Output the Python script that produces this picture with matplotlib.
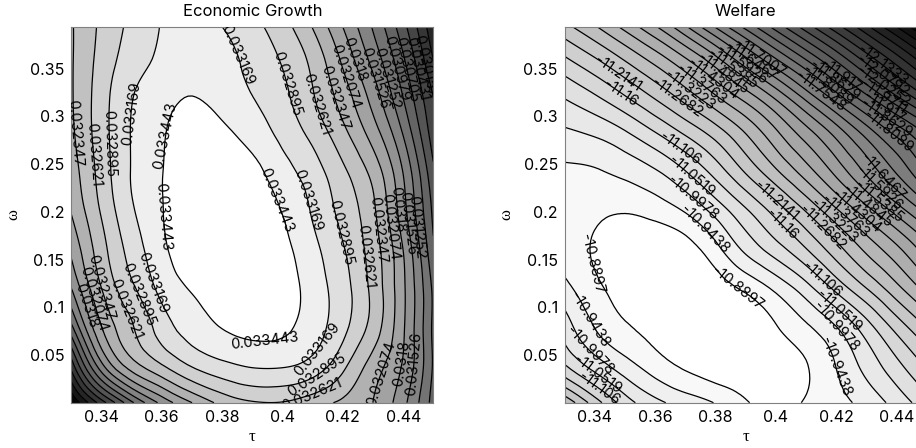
import numpy as np
import matplotlib
matplotlib.use("Agg")
import matplotlib.pyplot as plt
import matplotlib.tri as mtri
from matplotlib.colors import Normalize

# grid the surfaces were read on
tau = [0.33, 0.34, 0.35, 0.36, 0.37, 0.38, 0.39, 0.40, 0.41, 0.42, 0.43, 0.44, 0.45]
omega = [0.0, 0.04, 0.08, 0.12, 0.16, 0.20, 0.24, 0.28, 0.32, 0.36, 0.394]

# values estimated from the contour lines in the picture, one row per omega
growth = [
    [0.029059, 0.030018, 0.030922, 0.031607, 0.032073, 0.032429, 0.032594, 0.032607, 0.032457, 0.032292, 0.032073, 0.031607, 0.030867],
    [0.030018, 0.031470, 0.032237, 0.032621, 0.032936, 0.033114, 0.033210, 0.033210, 0.033073, 0.032703, 0.032237, 0.031772, 0.030950],
    [0.030922, 0.032073, 0.032594, 0.033032, 0.033292, 0.033457, 0.033525, 0.033498, 0.033306, 0.032977, 0.032511, 0.031840, 0.030922],
    [0.031525, 0.032347, 0.032840, 0.033251, 0.033470, 0.033635, 0.033662, 0.033580, 0.033320, 0.033005, 0.032539, 0.031854, 0.030922],
    [0.031854, 0.032511, 0.033005, 0.033375, 0.033635, 0.033717, 0.033676, 0.033525, 0.033251, 0.032922, 0.032484, 0.031799, 0.030758],
    [0.032087, 0.032648, 0.033128, 0.033429, 0.033662, 0.033676, 0.033594, 0.033435, 0.033142, 0.032813, 0.032402, 0.031635, 0.030648],
    [0.032210, 0.032731, 0.033183, 0.033435, 0.033621, 0.033607, 0.033525, 0.033292, 0.033032, 0.032689, 0.032265, 0.031525, 0.030498],
    [0.032292, 0.032772, 0.033183, 0.033416, 0.033566, 0.033512, 0.033347, 0.033101, 0.032827, 0.032443, 0.031963, 0.031251, 0.030292],
    [0.032320, 0.032772, 0.033155, 0.033347, 0.033448, 0.033333, 0.033174, 0.032963, 0.032648, 0.032224, 0.031689, 0.030977, 0.030155],
    [0.032320, 0.032717, 0.033032, 0.033224, 0.033333, 0.033265, 0.033087, 0.032868, 0.032539, 0.032018, 0.031429, 0.030744, 0.029881],
    [0.032320, 0.032676, 0.032963, 0.033183, 0.033279, 0.033169, 0.032977, 0.032731, 0.032333, 0.031799, 0.031224, 0.030525, 0.029689],
]
welfare = [
    [-11.312, -11.187, -11.079, -11.014, -10.974, -10.941, -10.895, -10.873, -10.895, -10.925, -10.963, -11.019, -11.084],
    [-11.106, -11.025, -10.963, -10.914, -10.879, -10.857, -10.852, -10.863, -10.887, -10.946, -11.017, -11.092, -11.171],
    [-11.025, -10.941, -10.895, -10.871, -10.852, -10.844, -10.849, -10.887, -10.936, -10.998, -11.084, -11.182, -11.274],
    [-10.960, -10.903, -10.868, -10.852, -10.844, -10.863, -10.901, -10.957, -11.030, -11.122, -11.214, -11.306, -11.398],
    [-10.922, -10.884, -10.857, -10.844, -10.863, -10.925, -11.009, -11.079, -11.155, -11.244, -11.333, -11.414, -11.512],
    [-10.919, -10.901, -10.892, -10.909, -10.946, -11.014, -11.095, -11.179, -11.268, -11.363, -11.458, -11.555, -11.658],
    [-10.932, -10.936, -10.955, -10.987, -11.044, -11.122, -11.214, -11.306, -11.398, -11.495, -11.598, -11.701, -11.804],
    [-10.984, -11.001, -11.038, -11.095, -11.160, -11.230, -11.317, -11.412, -11.506, -11.604, -11.712, -11.814, -11.917],
    [-11.055, -11.098, -11.155, -11.220, -11.290, -11.368, -11.452, -11.549, -11.663, -11.782, -11.901, -12.017, -12.134],
    [-11.152, -11.209, -11.274, -11.344, -11.425, -11.522, -11.636, -11.752, -11.866, -11.982, -12.101, -12.217, -12.339],
    [-11.252, -11.317, -11.393, -11.479, -11.585, -11.706, -11.825, -11.939, -12.052, -12.166, -12.282, -12.404, -12.526],
]

growth_levels = [0.033443, 0.033169, 0.032895, 0.032621, 0.032347, 0.032074, 0.0318,
                 0.031526, 0.031252, 0.030979, 0.030705, 0.030431, 0.030157, 0.029883,
                 0.02961, 0.029336, 0.029062]
welfare_levels = [-10.8897, -10.9438, -10.9978, -11.0519, -11.106, -11.16, -11.2141,
                  -11.2682, -11.3223, -11.3763, -11.4304, -11.4845, -11.5385, -11.5926,
                  -11.6467, -11.7007, -11.7548, -11.8089, -11.8629, -11.917, -11.9711,
                  -12.0252, -12.0792, -12.1333, -12.1874, -12.2414, -12.2955, -12.3496,
                  -12.4036, -12.4577, -12.5118]

tau_ticks = [0.34, 0.36, 0.38, 0.40, 0.42, 0.44]
tau_labels = ["0.34", "0.36", "0.38", "0.4", "0.42", "0.44"]
omega_ticks = [0.05, 0.10, 0.15, 0.20, 0.25, 0.30, 0.35]
omega_labels = ["0.05", "0.1", "0.15", "0.2", "0.25", "0.3", "0.35"]

# where the labels sit, in 3x pixels of each panel, per contour level
growth_spots = {
    0: [(510, 410), (495, 650), (830, 600), (795, 1000)],
    1: [(398, 340), (455, 850), (925, 600), (715, 165), (930, 1035)],
    2: [(340, 430), (410, 885), (1010, 700), (865, 250), (935, 1100)],
    3: [(275, 465), (380, 925), (1090, 770), (955, 310), (930, 1165)],
    4: [(225, 400), (305, 860), (1130, 690), (1015, 290)],
    5: [(270, 900), (1165, 680), (1040, 230), (1140, 1120)],
    6: [(250, 920), (1165, 630), (1060, 180), (1210, 1090)],
    7: [(1220, 670), (1110, 240), (1240, 1090)],
    8: [(1265, 680), (1150, 240)],
    9: [(1175, 210)],
    10: [(1210, 210)],
    11: [(1240, 210)],
    12: [(1265, 200)],
}
welfare_spots = {
    0: [(410, 790), (840, 860)],
    1: [(390, 960), (737, 690), (1135, 1100)],
    2: [(405, 1040), (705, 590), (1135, 980)],
    3: [(420, 1120), (700, 530), (1140, 935)],
    4: [(420, 1170), (665, 445), (1110, 820)],
    5: [(490, 278), (990, 655)],
    6: [(480, 220), (965, 590)],
    7: [(656, 295), (1100, 675)],
    8: [(684, 285), (1130, 660)],
    9: [(712, 275), (1160, 650)],
    10: [(740, 265), (1190, 640)],
    11: [(768, 255), (1220, 630)],
    12: [(796, 245), (1250, 620)],
    13: [(824, 235), (1250, 580)],
    14: [(852, 225), (1250, 550)],
    15: [(875, 218)],
    16: [(1065, 305)],
    17: [(1080, 295), (1270, 420)],
    18: [(1095, 285), (1270, 375)],
    19: [(1110, 275), (1270, 335)],
    20: [(1270, 300)],
    21: [(1270, 265)],
    22: [(1270, 232)],
    23: [(1270, 200)],
}

plt.rcParams["font.family"] = ["Inter", "DejaVu Sans"]


def draw_panel(ax, values, levels, vmin, vmax, spots, title):
    z = np.array(values).ravel()
    xx, yy = np.meshgrid(tau, omega)
    tri = mtri.Triangulation(xx.ravel(), yy.ravel())
    interp = mtri.CubicTriInterpolator(tri, z, kind="min_E")
    fine_tri, fine_z = mtri.UniformTriRefiner(tri).refine_field(z, interp, subdiv=3)

    up = levels[::-1]
    norm = Normalize(vmin=vmin, vmax=vmax)
    ax.tricontourf(fine_tri, fine_z, levels=up, cmap="gray", norm=norm, extend="both")
    lines = ax.tricontour(fine_tri, fine_z, levels=up, colors="black", linewidths=0.9,
                          linestyles="solid", negative_linestyles="solid")

    ax.set_xlim(0.33, 0.45)
    ax.set_ylim(0.0, 0.394)
    ax.set_xticks(tau_ticks, tau_labels)
    ax.set_yticks(omega_ticks, omega_labels)
    ax.tick_params(length=0, labelsize=11.5, pad=5)
    ax.set_title(title, fontsize=12, pad=8)
    ax.set_xlabel("τ", family="Liberation Serif", fontsize=12, labelpad=3)
    ax.set_ylabel("ω", family="Liberation Serif", fontsize=12, labelpad=6)
    for s in ax.spines.values():
        s.set_color("#808080")
        s.set_linewidth(0.8)

    # labels stay on top of the lines, no gap, as in the original
    ax.clabel(lines, manual=[], inline=False, fontsize=10.5, fmt="%.6g", colors="black")
    bbox = ax.get_position()
    x0 = bbox.x0 * 916
    y_top = (1 - bbox.y1) * 448
    for k, where in spots.items():
        lines.labelIndiceList = [len(levels) - 1 - k]
        for px, py in where:
            x = 0.33 + (px / 3 - (x0 % 458)) / bbox.width / 916 * 0.12
            y = 0.394 - (py / 3 - y_top) / bbox.height / 448 * 0.394
            lines.add_label_near(x, y, inline=False)


fig = plt.figure(figsize=(9.16, 4.48), dpi=100)
ax1 = fig.add_axes([71.3 / 916, 1 - 402.7 / 448, 362 / 916, 376 / 448])
ax2 = fig.add_axes([564.7 / 916, 1 - 402.7 / 448, 362 / 916, 376 / 448])

draw_panel(ax1, growth, growth_levels, 0.02906, 0.03360, growth_spots, "Economic Growth")
draw_panel(ax2, welfare, welfare_levels, -12.55, -10.87, welfare_spots, "Welfare")

fig.savefig("out.png", dpi=100)
